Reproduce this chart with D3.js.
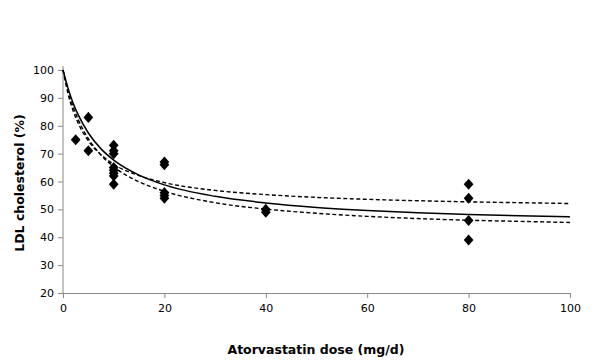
<!DOCTYPE html>
<html>
<head>
<meta charset="utf-8">
<script src="https://cdn.jsdelivr.net/npm/d3@7/dist/d3.min.js"></script>
<style>
  html, body { margin: 0; padding: 0; background: #fff; }
  svg { display: block; }
  text { font-family: "DejaVu Sans", Verdana, sans-serif; }
</style>
</head>
<body>
<svg id="chart" width="600" height="364"></svg>
<script>
// ---- Data ----
const doseX = [2.5, 5, 5, 10, 10, 10, 10, 10, 10, 10, 10, 20, 20, 20, 20, 20, 40, 40, 80, 80, 80, 80];
const ldlY  = [75, 83, 71, 73, 71, 70, 65, 64, 63, 62, 59, 67, 66, 56, 55, 54, 50, 49, 59, 54, 46, 39];

const curveX     = [0, 1, 2, 3, 5, 7.5, 10, 15, 20, 30, 40, 50, 60, 70, 80, 90, 100];
const fitSolid   = [100, 93.4, 88.1, 83.9, 77.4, 71.7, 67.7, 62.3, 58.8, 54.7, 52.3, 50.7, 49.6, 48.8, 48.2, 47.7, 47.3];
const fitUpper   = [100, 91.4, 85.4, 80.9, 74.6, 69.6, 66.2, 62.1, 59.6, 56.8, 55.3, 54.3, 53.6, 53.1, 52.7, 52.4, 52.1];
const fitLower   = [100, 92.6, 86.8, 82.2, 75.4, 69.5, 65.3, 59.9, 56.5, 52.4, 50.1, 48.6, 47.5, 46.7, 46.1, 45.7, 45.3];

const xTicks = [0, 20, 40, 60, 80, 100];
const yTicks = [20, 30, 40, 50, 60, 70, 80, 90, 100];
const xTitle = "Atorvastatin dose (mg/d)";
const yTitle = "LDL cholesterol (%)";

// ---- Layout ----
const svg = d3.select("#chart");
const x = d3.scaleLinear().domain([0, 100]).range([63, 570]);
const y = d3.scaleLinear().domain([20, 100]).range([293, 70]);
const axisColor = "#888";

// Y axis
const gy = svg.append("g").attr("transform", `translate(${x(0)},0)`)
  .call(d3.axisLeft(y).tickValues(yTicks).tickSize(5).tickPadding(4).tickSizeOuter(0));
gy.select(".domain").attr("stroke", axisColor).attr("d", `M0,${y(20)}V${y(100) - 4}`);
gy.selectAll(".tick line").attr("stroke", axisColor);
gy.selectAll(".tick text").attr("fill", "#000").style("font-size", "11px")
  .style("font-family", '"DejaVu Sans", Verdana, sans-serif');

// X axis
const gx = svg.append("g").attr("transform", `translate(0,${y(20)})`)
  .call(d3.axisBottom(x).tickValues(xTicks).tickSize(5).tickPadding(6).tickSizeOuter(0));
gx.select(".domain").attr("stroke", axisColor);
gx.selectAll(".tick line").attr("stroke", axisColor);
gx.selectAll(".tick text").attr("fill", "#000").style("font-size", "11px")
  .style("font-family", '"DejaVu Sans", Verdana, sans-serif');

// Curves
const line = d3.line().x((d, i) => x(curveX[i])).y(d => y(d)).curve(d3.curveMonotoneX);
svg.append("path").datum(fitUpper).attr("d", line).attr("fill", "none")
  .attr("stroke", "#000").attr("stroke-width", 1.4).attr("stroke-dasharray", "4,2.5");
svg.append("path").datum(fitLower).attr("d", line).attr("fill", "none")
  .attr("stroke", "#000").attr("stroke-width", 1.4).attr("stroke-dasharray", "4,2.5");
svg.append("path").datum(fitSolid).attr("d", line).attr("fill", "none")
  .attr("stroke", "#000").attr("stroke-width", 1.5);

// Diamonds
const diamond = {
  draw(ctx, size) {
    const h = Math.sqrt(size) * 0.6, w = h * 0.88;
    ctx.moveTo(0, -h); ctx.lineTo(w, 0); ctx.lineTo(0, h); ctx.lineTo(-w, 0); ctx.closePath();
  }
};
svg.append("g").selectAll("path").data(doseX).join("path")
  .attr("transform", (d, i) => `translate(${x(d)},${y(ldlY[i])})`)
  .attr("d", d3.symbol().type(diamond).size(85))
  .attr("fill", "#000");

// Titles
svg.append("text").attr("x", 316).attr("y", 354).attr("text-anchor", "middle")
  .style("font-size", "12.5px").style("font-weight", "bold").text(xTitle);
svg.append("text").attr("transform", `translate(23.5,183) rotate(-90)`).attr("text-anchor", "middle")
  .style("font-size", "12.5px").style("font-weight", "bold").text(yTitle);
</script>
</body>
</html>
